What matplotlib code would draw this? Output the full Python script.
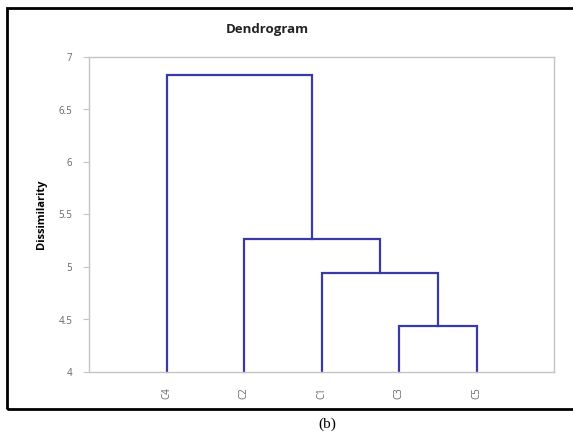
import matplotlib
matplotlib.use("Agg")
import matplotlib.pyplot as plt
from matplotlib.patches import Rectangle

# leaves in dendrogram order
leaves = ["C4", "C2", "C1", "C3", "C5"]
# merges: (left node, right node, dissimilarity); new nodes numbered after the leaves
merge_a = [3, 2, 1, 0]
merge_b = [4, 5, 6, 7]
merge_h = [4.44, 4.94, 5.27, 6.83]

y_min, y_max = 4, 7
yticks = [4, 4.5, 5, 5.5, 6, 6.5, 7]

line_col = "#3a3aa6"
grey = "#c4c4c4"

plt.rcParams['font.family'] = ['Open Sans', 'DejaVu Sans']

fig = plt.figure(figsize=(5.73, 4.36), dpi=100)
ax = fig.add_axes([89/573, 1 - 372/436, 465/573, 315/436])

# node positions: leaves at 1..n, internal nodes at midpoint of children
xpos = [i + 1 for i in range(len(leaves))]
hpos = [y_min] * len(leaves)
for a, b, h in zip(merge_a, merge_b, merge_h):
    xa, xb = xpos[a], xpos[b]
    ax.plot([xa, xa, xb, xb], [hpos[a], h, h, hpos[b]],
            color=line_col, lw=1.6, solid_joinstyle='miter', clip_on=False)
    xpos.append((xa + xb) / 2)
    hpos.append(h)

ax.set_xlim(0, len(leaves) + 1)
ax.set_ylim(y_min, y_max)
ax.set_yticks(yticks)
ax.set_yticklabels([f"{v:g}" for v in yticks])
ax.set_xticks(range(1, len(leaves) + 1))
ax.set_xticklabels(leaves, rotation=90)
ax.tick_params(axis='x', length=0, pad=11, labelsize=7, labelcolor="#666666")
ax.tick_params(axis='y', length=4, width=0.8, color=grey, pad=8,
               labelsize=7, labelcolor="#666666")
for s in ax.spines.values():
    s.set_color(grey)
    s.set_linewidth(1.0)

ax.set_ylabel("Dissimilarity", fontsize=8, fontweight='bold', labelpad=8)
fig.text(267/573, 1 - 30/436, "Dendrogram", ha='center', va='center',
         fontsize=9.5, fontweight='bold', color="#222222")

# outer frame and caption
fig.add_artist(Rectangle((7/573, 1 - 409/436), 1.0, (409 - 8)/436,
                         transform=fig.transFigure, fill=False,
                         edgecolor='black', lw=2))
fig.text(327/573, 1 - 424/436, "(b)", ha='center', va='center',
         fontsize=11, family='Liberation Serif')

fig.savefig("out.png", dpi=100)
